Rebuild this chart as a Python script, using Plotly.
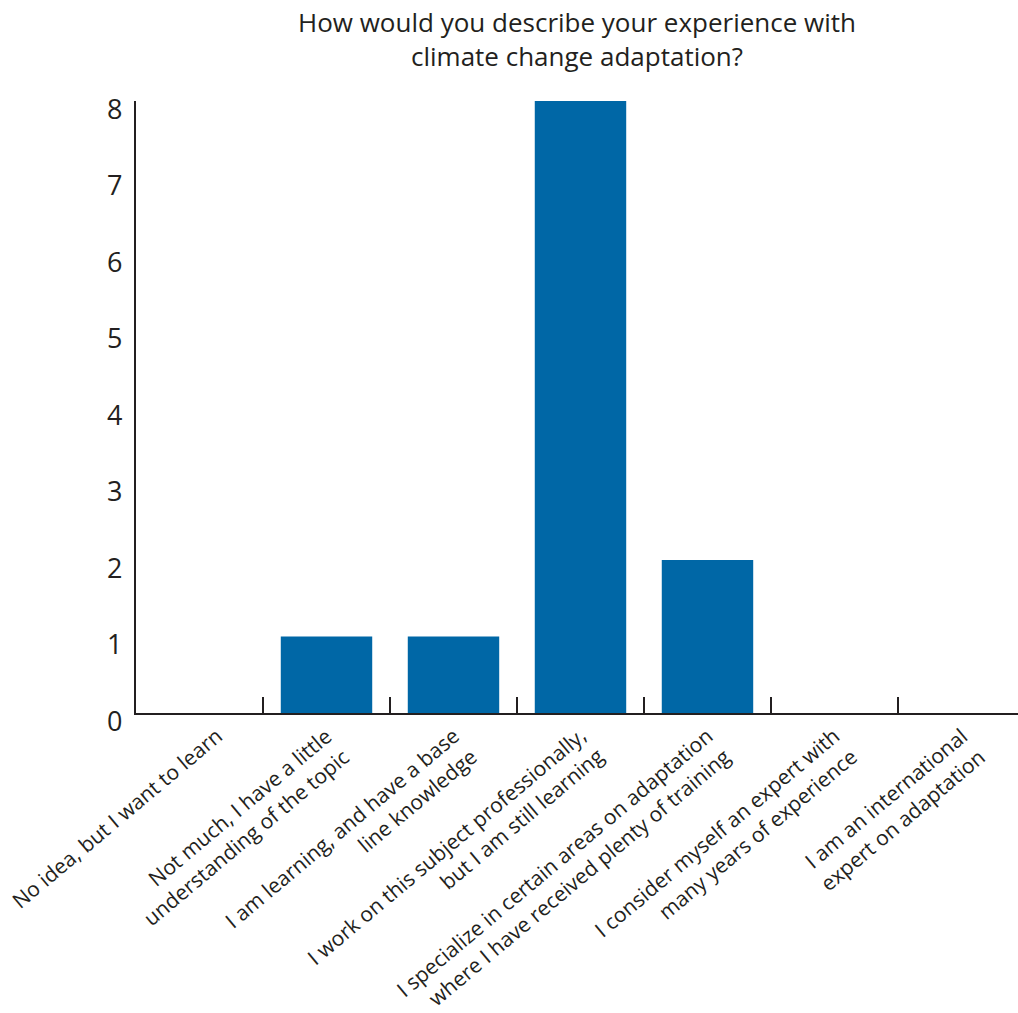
import plotly.graph_objects as go

categories = [
    "No idea, but I want to learn",
    "Not much, I have a little<br>understanding of the topic",
    "I am learning, and have a base<br>line knowledge",
    "I work on this subject professionally,<br>but I am still learning",
    "I specialize in certain areas on adaptation<br>where I have received plenty of training",
    "I consider myself an expert with<br>many years of experience",
    "I am an international<br>expert on adaptation",
]
counts = [0, 1, 1, 8, 2, 0, 0]
y_ticks = [0, 1, 2, 3, 4, 5, 6, 7, 8]
title_text = "How would you describe your experience with<br>climate change adaptation?"

FONT = "Open Sans"
AXIS_COLOR = "#231f20"
TEXT_COLOR = "#231f20"

fig = go.Figure(
    go.Bar(
        x=categories,
        y=counts,
        marker=dict(color="#0067a6", line=dict(width=0)),
        width=0.72,
    )
)

annotations = [
    dict(
        text=title_text,
        xref="paper", yref="paper",
        x=0.5, y=1, yshift=99,
        xanchor="center", yanchor="top",
        showarrow=False,
        font=dict(family=FONT, size=26, color=TEXT_COLOR),
    )
]
# category labels (rotated, right-aligned lines)
for cat in categories:
    annotations.append(dict(
        text=cat, x=cat, y=0, xref="x", yref="y",
        xanchor="right", yanchor="top", align="right",
        textangle=-40, xshift=31, yshift=-6,
        showarrow=False,
        font=dict(family=FONT, size=21, color=TEXT_COLOR),
    ))
# y tick labels
for v in y_ticks:
    annotations.append(dict(
        text=str(v), x=0, y=v, xref="paper", yref="y",
        xanchor="right", yanchor="middle", xshift=-12, yshift=-7,
        showarrow=False,
        font=dict(family=FONT, size=27, color=TEXT_COLOR),
    ))

fig.update_layout(
    width=1018,
    height=1013,
    margin=dict(l=136, r=0, t=101, b=300, autoexpand=False),
    paper_bgcolor="white",
    plot_bgcolor="white",
    showlegend=False,
    font=dict(family=FONT, color=TEXT_COLOR),
    annotations=annotations,
)

fig.update_xaxes(
    type="category",
    categoryorder="array",
    categoryarray=categories,
    range=[-0.5, 6.445],
    automargin=False,
    showticklabels=False,
    showline=True, linecolor=AXIS_COLOR, linewidth=2,
    ticks="inside", tickson="boundaries", ticklen=16, tickwidth=1.5, tickcolor=AXIS_COLOR,
    showgrid=False, zeroline=False,
)
fig.update_yaxes(
    range=[0, 8],
    automargin=False,
    showticklabels=False,
    showline=True, linecolor=AXIS_COLOR, linewidth=1.5,
    ticks="", showgrid=False, zeroline=False,
)

fig.write_html("out.html")
